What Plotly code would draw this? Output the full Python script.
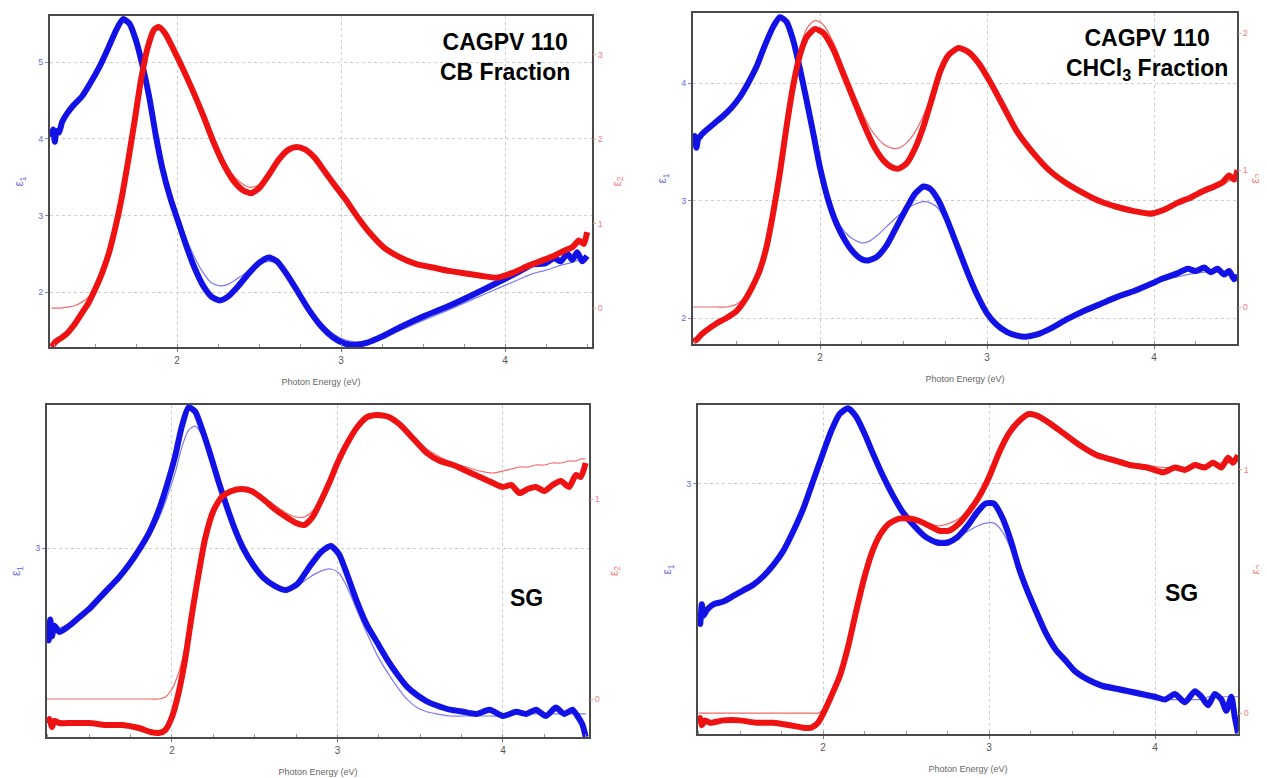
import plotly.graph_objects as go

# reference picture size; the page body adds an 8px margin, so the figure is placed 8px in
W_REF, H_REF = 1267, 778
OFF = 8
W, H = W_REF - OFF, H_REF - OFF

# ---------------- Panel 1 : CAGPV 110 CB Fraction ----------------
p1_e1_E = [1.235, 1.245, 1.255, 1.265, 1.28, 1.30, 1.33, 1.37, 1.42, 1.47, 1.53, 1.58, 1.63, 1.67, 1.71, 1.75,
           1.79, 1.83, 1.87, 1.91, 1.96, 2.01, 2.06, 2.11, 2.16, 2.21, 2.26, 2.31, 2.37, 2.44, 2.50, 2.56,
           2.61, 2.66, 2.72, 2.80, 2.88, 2.95, 3.02, 3.09, 3.16, 3.25, 3.36, 3.50, 3.66, 3.82, 3.97, 4.08,
           4.17, 4.24, 4.30, 4.34, 4.38, 4.41, 4.44, 4.47, 4.50]
p1_e1 = [4.02, 4.12, 3.96, 4.10, 4.08, 4.22, 4.33, 4.44, 4.55, 4.72, 4.95, 5.18, 5.42, 5.56, 5.50, 5.28,
         4.95, 4.55, 4.05, 3.62, 3.22, 2.90, 2.58, 2.30, 2.08, 1.94, 1.89, 1.94, 2.07, 2.25, 2.38, 2.45,
         2.40, 2.26, 2.06, 1.78, 1.55, 1.41, 1.33, 1.31, 1.34, 1.42, 1.54, 1.68, 1.82, 1.98, 2.14, 2.26,
         2.36, 2.37, 2.44, 2.40, 2.50, 2.42, 2.52, 2.40, 2.47]
p1_e1_fit = [4.05, 4.07, 4.09, 4.11, 4.14, 4.20, 4.30, 4.42, 4.55, 4.72, 4.95, 5.18, 5.42, 5.55, 5.50, 5.28,
             4.95, 4.55, 4.07, 3.65, 3.27, 2.97, 2.68, 2.44, 2.25, 2.12, 2.08, 2.10, 2.18, 2.28, 2.36, 2.40,
             2.37, 2.26, 2.08, 1.82, 1.60, 1.46, 1.38, 1.35, 1.36, 1.41, 1.50, 1.63, 1.77, 1.92, 2.06, 2.16,
             2.24, 2.28, 2.32, 2.35, 2.37, 2.39, 2.41, 2.42, 2.43]
p1_e2_E = [1.235, 1.26, 1.29, 1.33, 1.38, 1.42, 1.46, 1.50, 1.54, 1.58, 1.62, 1.66, 1.70, 1.74, 1.78, 1.82,
           1.86, 1.89, 1.93, 1.98, 2.04, 2.10, 2.16, 2.22, 2.28, 2.34, 2.40, 2.45, 2.50, 2.56, 2.62, 2.68,
           2.73, 2.78, 2.84, 2.90, 2.96, 3.03, 3.10, 3.18, 3.26, 3.36, 3.46, 3.56, 3.66, 3.76, 3.86, 3.95,
           4.05, 4.14, 4.22, 4.30, 4.36, 4.41, 4.45, 4.48, 4.50]
p1_e2 = [-0.46, -0.40, -0.36, -0.30, -0.18, -0.06, 0.06, 0.22, 0.40, 0.62, 0.92, 1.28, 1.72, 2.20, 2.70, 3.08,
         3.30, 3.33, 3.25, 3.06, 2.82, 2.56, 2.28, 1.98, 1.72, 1.52, 1.40, 1.36, 1.42, 1.58, 1.76, 1.88,
         1.91, 1.88, 1.78, 1.62, 1.46, 1.28, 1.08, 0.88, 0.72, 0.60, 0.52, 0.48, 0.44, 0.41, 0.38, 0.36,
         0.42, 0.50, 0.56, 0.62, 0.68, 0.72, 0.80, 0.76, 0.90]
p1_e2_fit = [0.00, 0.00, 0.00, 0.01, 0.03, 0.07, 0.13, 0.24, 0.40, 0.62, 0.92, 1.28, 1.72, 2.20, 2.70, 3.08,
             3.32, 3.36, 3.27, 3.06, 2.82, 2.56, 2.28, 1.99, 1.76, 1.58, 1.47, 1.43, 1.46, 1.57, 1.72, 1.84,
             1.89, 1.88, 1.80, 1.64, 1.47, 1.28, 1.08, 0.88, 0.72, 0.60, 0.52, 0.48, 0.44, 0.41, 0.39, 0.38,
             0.41, 0.47, 0.53, 0.60, 0.66, 0.71, 0.76, 0.80, 0.82]

# ---------------- Panel 2 : CAGPV 110 CHCl3 Fraction ----------------
p2_e1_E = [1.24, 1.25, 1.26, 1.27, 1.29, 1.32, 1.37, 1.42, 1.47, 1.52, 1.57, 1.62, 1.67, 1.72, 1.76, 1.80,
           1.84, 1.88, 1.92, 1.96, 2.00, 2.05, 2.10, 2.15, 2.20, 2.25, 2.29, 2.34, 2.40, 2.46, 2.52, 2.57,
           2.62, 2.66, 2.71, 2.76, 2.82, 2.88, 2.94, 3.00, 3.06, 3.12, 3.18, 3.23, 3.30, 3.38, 3.48, 3.58,
           3.68, 3.78, 3.88, 3.98, 4.06, 4.14, 4.20, 4.25, 4.30, 4.34, 4.38, 4.42, 4.45, 4.48, 4.50]
p2_e1 = [3.48, 3.55, 3.45, 3.52, 3.56, 3.60, 3.66, 3.72, 3.79, 3.88, 4.00, 4.14, 4.32, 4.48, 4.56, 4.52,
         4.36, 4.12, 3.85, 3.57, 3.28, 3.00, 2.80, 2.66, 2.56, 2.50, 2.49, 2.52, 2.62, 2.78, 2.94, 3.06,
         3.12, 3.10, 3.00, 2.84, 2.62, 2.40, 2.20, 2.04, 1.94, 1.88, 1.85, 1.84, 1.86, 1.91, 1.99, 2.06,
         2.12, 2.18, 2.23, 2.29, 2.34, 2.38, 2.42, 2.40, 2.43, 2.39, 2.42, 2.37, 2.40, 2.33, 2.36]
p2_e1_fit = [3.50, 3.51, 3.52, 3.53, 3.55, 3.59, 3.65, 3.72, 3.79, 3.88, 4.00, 4.14, 4.32, 4.48, 4.55, 4.51,
             4.36, 4.13, 3.87, 3.60, 3.33, 3.06, 2.84, 2.73, 2.67, 2.64, 2.65, 2.70, 2.78, 2.86, 2.93, 2.97,
             2.99, 2.98, 2.93, 2.80, 2.60, 2.39, 2.20, 2.05, 1.95, 1.89, 1.86, 1.85, 1.87, 1.92, 1.99, 2.06,
             2.12, 2.18, 2.23, 2.28, 2.32, 2.35, 2.37, 2.38, 2.39, 2.39, 2.39, 2.38, 2.38, 2.37, 2.37]
p2_e2_E = [1.24, 1.26, 1.29, 1.32, 1.38, 1.44, 1.50, 1.55, 1.60, 1.64, 1.68, 1.72, 1.76, 1.80, 1.84, 1.88,
           1.92, 1.97, 2.02, 2.08, 2.14, 2.20, 2.26, 2.32, 2.38, 2.43, 2.47, 2.52, 2.57, 2.62, 2.67, 2.72,
           2.77, 2.83, 2.89, 2.95, 3.02, 3.10, 3.18, 3.28, 3.38, 3.48, 3.58, 3.68, 3.78, 3.88, 3.98, 4.06,
           4.14, 4.22, 4.30, 4.36, 4.41, 4.45, 4.48, 4.50]
p2_e2 = [-0.25, -0.24, -0.20, -0.17, -0.12, -0.08, -0.03, 0.05, 0.16, 0.27, 0.44, 0.69, 0.98, 1.32, 1.62, 1.84,
         1.97, 2.03, 2.00, 1.88, 1.70, 1.52, 1.34, 1.18, 1.07, 1.02, 1.01, 1.05, 1.16, 1.32, 1.52, 1.72,
         1.84, 1.89, 1.86, 1.78, 1.64, 1.46, 1.28, 1.12, 0.99, 0.90, 0.83, 0.77, 0.73, 0.70, 0.68, 0.71,
         0.76, 0.80, 0.85, 0.88, 0.91, 0.96, 0.93, 1.00]
p2_e2_fit = [0.00, 0.00, 0.00, 0.00, 0.00, 0.00, 0.02, 0.07, 0.16, 0.27, 0.44, 0.69, 0.98, 1.33, 1.64, 1.88,
             2.03, 2.09, 2.06, 1.93, 1.75, 1.57, 1.40, 1.27, 1.19, 1.16, 1.16, 1.20, 1.28, 1.40, 1.56, 1.72,
             1.83, 1.88, 1.86, 1.78, 1.64, 1.46, 1.28, 1.12, 0.99, 0.90, 0.83, 0.77, 0.73, 0.71, 0.70, 0.72,
             0.75, 0.79, 0.83, 0.86, 0.89, 0.92, 0.94, 0.96]

# ---------------- Panel 3 : SG (left) ----------------
p3_e1_E = [1.245, 1.255, 1.265, 1.275, 1.29, 1.32, 1.38, 1.44, 1.50, 1.56, 1.62, 1.68, 1.74, 1.80, 1.86, 1.92,
           1.97, 2.02, 2.06, 2.10, 2.14, 2.18, 2.23, 2.28, 2.33, 2.38, 2.43, 2.49, 2.55, 2.62, 2.69, 2.76,
           2.83, 2.90, 2.96, 3.01, 3.06, 3.12, 3.18, 3.24, 3.30, 3.36, 3.42, 3.48, 3.54, 3.60, 3.68, 3.76,
           3.84, 3.92, 4.00, 4.08, 4.14, 4.20, 4.26, 4.32, 4.37, 4.42, 4.45, 4.48, 4.50]
p3_e1 = [2.62, 2.56, 2.66, 2.58, 2.63, 2.60, 2.63, 2.67, 2.71, 2.76, 2.81, 2.86, 2.92, 2.99, 3.07, 3.18,
         3.30, 3.44, 3.58, 3.67, 3.65, 3.57, 3.45, 3.32, 3.20, 3.09, 3.00, 2.92, 2.86, 2.82, 2.80, 2.83,
         2.91, 2.98, 3.01, 2.97, 2.87, 2.74, 2.63, 2.55, 2.47, 2.40, 2.34, 2.30, 2.27, 2.25, 2.23, 2.22,
         2.21, 2.23, 2.20, 2.22, 2.21, 2.23, 2.20, 2.24, 2.21, 2.23, 2.20, 2.16, 2.10]
p3_e1_fit = [2.60, 2.60, 2.61, 2.61, 2.62, 2.62, 2.64, 2.67, 2.71, 2.76, 2.81, 2.86, 2.92, 2.98, 3.05, 3.14,
             3.24, 3.36, 3.48, 3.56, 3.58, 3.54, 3.44, 3.32, 3.20, 3.09, 3.00, 2.92, 2.86, 2.82, 2.80, 2.82,
             2.86, 2.89, 2.90, 2.88, 2.81, 2.70, 2.59, 2.49, 2.41, 2.34, 2.28, 2.24, 2.22, 2.21, 2.20, 2.20,
             2.20, 2.20, 2.20, 2.21, 2.21, 2.21, 2.21, 2.21, 2.21, 2.21, 2.21, 2.21, 2.21]
p3_e2_E = [1.245, 1.26, 1.275, 1.29, 1.32, 1.40, 1.50, 1.60, 1.70, 1.80, 1.87, 1.92, 1.96, 2.00, 2.04, 2.08,
           2.12, 2.16, 2.20, 2.25, 2.30, 2.36, 2.42, 2.48, 2.55, 2.62, 2.69, 2.75, 2.80, 2.85, 2.90, 2.95,
           3.00, 3.06, 3.12, 3.18, 3.24, 3.31, 3.38, 3.46, 3.54, 3.62, 3.70, 3.78, 3.86, 3.94, 4.00, 4.05,
           4.10, 4.15, 4.20, 4.25, 4.30, 4.35, 4.40, 4.44, 4.47, 4.50]
p3_e2 = [-0.12, -0.10, -0.14, -0.11, -0.12, -0.12, -0.12, -0.13, -0.13, -0.145, -0.165, -0.17, -0.155, -0.09, 0.03, 0.20,
         0.42, 0.62, 0.80, 0.94, 1.01, 1.04, 1.05, 1.04, 1.00, 0.95, 0.91, 0.88, 0.87, 0.91, 0.99, 1.08,
         1.18, 1.28, 1.36, 1.41, 1.42, 1.41, 1.37, 1.30, 1.23, 1.19, 1.17, 1.14, 1.11, 1.08, 1.06, 1.07,
         1.03, 1.05, 1.06, 1.04, 1.07, 1.09, 1.06, 1.12, 1.11, 1.18]
p3_e2_fit = [0.00, 0.00, 0.00, 0.00, 0.00, 0.00, 0.00, 0.00, 0.00, 0.00, 0.00, 0.00, 0.01, 0.05, 0.13, 0.26,
             0.44, 0.63, 0.80, 0.94, 1.01, 1.04, 1.05, 1.04, 1.01, 0.97, 0.93, 0.91, 0.91, 0.94, 1.00, 1.08,
             1.18, 1.28, 1.36, 1.41, 1.43, 1.42, 1.38, 1.31, 1.25, 1.21, 1.18, 1.16, 1.14, 1.13, 1.14, 1.15,
             1.16, 1.16, 1.17, 1.17, 1.18, 1.18, 1.19, 1.19, 1.20, 1.20]

# ---------------- Panel 4 : SG (right) ----------------
p4_e1_E = [1.25, 1.26, 1.27, 1.28, 1.30, 1.34, 1.40, 1.46, 1.52, 1.58, 1.64, 1.70, 1.76, 1.82, 1.88, 1.94,
           2.00, 2.05, 2.10, 2.15, 2.20, 2.25, 2.30, 2.36, 2.42, 2.48, 2.55, 2.62, 2.69, 2.75, 2.81, 2.87,
           2.93, 2.98, 3.03, 3.08, 3.13, 3.18, 3.23, 3.28, 3.34, 3.40, 3.46, 3.52, 3.60, 3.68, 3.76, 3.84,
           3.92, 4.00, 4.06, 4.12, 4.18, 4.24, 4.28, 4.32, 4.36, 4.40, 4.43, 4.46, 4.48, 4.50]
p4_e1 = [2.54, 2.50, 2.57, 2.53, 2.55, 2.57, 2.58, 2.60, 2.62, 2.64, 2.67, 2.71, 2.76, 2.83, 2.91, 3.01,
         3.11, 3.19, 3.25, 3.27, 3.24, 3.18, 3.11, 3.03, 2.96, 2.90, 2.85, 2.81, 2.79, 2.79, 2.81, 2.85,
         2.90, 2.93, 2.93, 2.88, 2.80, 2.70, 2.62, 2.55, 2.47, 2.41, 2.37, 2.33, 2.30, 2.28, 2.27, 2.26,
         2.25, 2.24, 2.23, 2.25, 2.22, 2.26, 2.24, 2.21, 2.25, 2.23, 2.19, 2.24, 2.17, 2.11]
p4_e1_fit = [2.55, 2.55, 2.55, 2.55, 2.56, 2.57, 2.58, 2.60, 2.62, 2.64, 2.67, 2.71, 2.76, 2.83, 2.91, 3.00,
             3.10, 3.18, 3.24, 3.26, 3.24, 3.18, 3.11, 3.03, 2.96, 2.90, 2.85, 2.81, 2.80, 2.80, 2.81, 2.83,
             2.85, 2.86, 2.86, 2.83, 2.77, 2.69, 2.61, 2.54, 2.46, 2.40, 2.36, 2.32, 2.29, 2.27, 2.26, 2.25,
             2.24, 2.23, 2.23, 2.23, 2.23, 2.23, 2.23, 2.24, 2.24, 2.24, 2.24, 2.24, 2.24, 2.24]
p4_e2_E = [1.25, 1.26, 1.27, 1.29, 1.32, 1.40, 1.50, 1.60, 1.70, 1.80, 1.88, 1.93, 1.97, 2.01, 2.05, 2.10,
           2.15, 2.20, 2.25, 2.30, 2.35, 2.40, 2.46, 2.52, 2.58, 2.64, 2.70, 2.76, 2.82, 2.88, 2.94, 3.00,
           3.06, 3.12, 3.18, 3.24, 3.30, 3.37, 3.45, 3.55, 3.65, 3.75, 3.85, 3.95, 4.05, 4.12, 4.18, 4.24,
           4.30, 4.35, 4.40, 4.44, 4.47, 4.50]
p4_e2 = [-0.04, -0.02, -0.05, -0.03, -0.04, -0.03, -0.03, -0.04, -0.04, -0.05, -0.06, -0.06, -0.04, 0.01, 0.07, 0.15,
         0.27, 0.42, 0.56, 0.67, 0.74, 0.78, 0.80, 0.80, 0.79, 0.77, 0.75, 0.75, 0.78, 0.83, 0.89, 0.97,
         1.07, 1.15, 1.20, 1.23, 1.22, 1.19, 1.15, 1.10, 1.06, 1.04, 1.02, 1.01, 0.99, 1.01, 1.00, 1.02,
         1.01, 1.03, 1.01, 1.05, 1.03, 1.06]
p4_e2_fit = [0.00, 0.00, 0.00, 0.00, 0.00, 0.00, 0.00, 0.00, 0.00, 0.00, 0.00, 0.00, 0.00, 0.02, 0.07, 0.15,
             0.27, 0.42, 0.56, 0.67, 0.74, 0.78, 0.80, 0.80, 0.79, 0.78, 0.77, 0.78, 0.80, 0.84, 0.90, 0.98,
             1.07, 1.15, 1.21, 1.24, 1.23, 1.20, 1.16, 1.11, 1.07, 1.05, 1.03, 1.02, 1.01, 1.01, 1.01, 1.02,
             1.02, 1.02, 1.03, 1.03, 1.04, 1.04]

# axis tick labels / titles
x_title = "Photon Energy (eV)"
left_title = "ε<sub>1</sub>"
right_title = "ε<sub>2</sub>"
labels_top = ["CAGPV 110<br>CB Fraction", "CAGPV 110<br>CHCl<sub>3</sub> Fraction"]
label_sg = "SG"

# ---------------- layout geometry (pixels in reference picture) ----------------
panels = [
    dict(box=(50, 592, 16, 347), xr=(1.2256, 4.530), y1r=(1.283, 5.60), y2r=(-0.462, 3.462), rstand=10,
         d=(p1_e1_E, p1_e1, p1_e1_fit, p1_e2_E, p1_e2, p1_e2_fit)),
    dict(box=(693, 1237, 13, 344), xr=(1.2395, 4.497), y1r=(1.779, 4.596), y2r=(-0.27, 2.146), rstand=3,
         d=(p2_e1_E, p2_e1, p2_e1_fit, p2_e2_E, p2_e2, p2_e2_fit)),
    dict(box=(47, 589, 405, 737), xr=(1.245, 4.520), y1r=(2.10, 3.681), y2r=(-0.19, 1.47), rstand=10,
         d=(p3_e1_E, p3_e1, p3_e1_fit, p3_e2_E, p3_e2, p3_e2_fit)),
    dict(box=(698, 1238, 405, 734), xr=(1.247, 4.50), y1r=(2.107, 3.282), y2r=(-0.086, 1.267), rstand=3,
         d=(p4_e1_E, p4_e1, p4_e1_fit, p4_e2_E, p4_e2, p4_e2_fit)),
]


def px(x):
    return (x - OFF) / W


def py(y):
    return 1 - (y - OFF) / H


BLUE = "#1212e6"
RED = "#ee1212"
BLUE_FIT = "#7c7cf2"
RED_FIT = "#f26a6a"
FONT = "Liberation Sans, Arial, sans-serif"

fig = go.Figure()
layout = dict(width=W, height=H, margin=dict(l=0, r=0, t=0, b=0, autoexpand=False),
              paper_bgcolor="white", plot_bgcolor="white", showlegend=False,
              font=dict(family=FONT, size=9))

for i, p in enumerate(panels, start=1):
    x0, x1, ytop, ybot = p["box"]
    xdom = [px(x0), px(x1)]
    ydom = [py(ybot), py(ytop)]
    xa = "xaxis" if i == 1 else f"xaxis{i}"
    xid = "x" if i == 1 else f"x{i}"
    yl = 2 * i - 1
    yr = 2 * i
    yla = "yaxis" if yl == 1 else f"yaxis{yl}"
    ylid = "y" if yl == 1 else f"y{yl}"
    yra = f"yaxis{yr}"
    yrid = f"y{yr}"

    layout[xa] = dict(domain=xdom, range=list(p["xr"]), anchor=ylid, dtick=1, automargin=False,
                      showline=True, linecolor="#4a4a4a", linewidth=2, mirror=True,
                      showgrid=True, gridcolor="#cdcdcd", griddash="dot", gridwidth=1,
                      ticks="outside", ticklen=3, tickcolor="#777",
                      minor=dict(ticks="inside", dtick=0.25, ticklen=3, tickcolor="#999", showgrid=False),
                      tickfont=dict(size=10, color="#555"), zeroline=False,
                      title=dict(text=x_title, font=dict(size=9, color="#666"), standoff=14))
    layout[yla] = dict(domain=ydom, range=list(p["y1r"]), anchor=xid, side="left", dtick=1, automargin=False,
                       showline=True, linecolor="#4a4a4a", linewidth=2, mirror=True,
                       showgrid=True, gridcolor="#cdcdcd", griddash="dot", gridwidth=1,
                       ticks="outside", ticklen=3, tickcolor="#8888cc", zeroline=False,
                       tickfont=dict(size=9, color="#6a6ad0"),
                       title=dict(text=left_title, font=dict(size=12, color="#6a6ad0"), standoff=12))
    layout[yra] = dict(range=list(p["y2r"]), overlaying=ylid, anchor=xid, side="right", dtick=1,
                       automargin=False, showline=False, showgrid=False, zeroline=False,
                       ticks="outside", ticklen=3, tickcolor="#ee9999",
                       tickfont=dict(size=9, color="#ee8080"),
                       title=dict(text=right_title, font=dict(size=12, color="#ee8080"), standoff=p["rstand"]))

    e1E, e1, e1f, e2E, e2, e2f = p["d"]
    fig.add_trace(go.Scatter(x=e1E, y=e1f, xaxis=xid, yaxis=ylid, mode="lines",
                             line=dict(color=BLUE_FIT, width=1.2, shape="spline", smoothing=0.8),
                             hoverinfo="skip"))
    fig.add_trace(go.Scatter(x=e1E, y=e1, xaxis=xid, yaxis=ylid, mode="lines",
                             line=dict(color=BLUE, width=6, shape="spline", smoothing=0.6),
                             hoverinfo="skip"))
    fig.add_trace(go.Scatter(x=e2E, y=e2f, xaxis=xid, yaxis=yrid, mode="lines",
                             line=dict(color=RED_FIT, width=1.2, shape="spline", smoothing=0.8),
                             hoverinfo="skip"))
    fig.add_trace(go.Scatter(x=e2E, y=e2, xaxis=xid, yaxis=yrid, mode="lines",
                             line=dict(color=RED, width=6, shape="spline", smoothing=0.6),
                             hoverinfo="skip"))

ann_font = dict(family=FONT, size=23, color="black")
layout["annotations"] = [
    dict(text="<b>" + labels_top[0] + "</b>", x=px(505), y=py(57), xref="paper", yref="paper",
         showarrow=False, font=ann_font, align="center", xanchor="center", yanchor="middle"),
    dict(text="<b>" + labels_top[1] + "</b>", x=px(1147), y=py(54), xref="paper", yref="paper",
         showarrow=False, font=ann_font, align="center", xanchor="center", yanchor="middle"),
    dict(text="<b>" + label_sg + "</b>", x=px(526), y=py(598), xref="paper", yref="paper",
         showarrow=False, font=ann_font, xanchor="center", yanchor="middle"),
    dict(text="<b>" + label_sg + "</b>", x=px(1181), y=py(593), xref="paper", yref="paper",
         showarrow=False, font=ann_font, xanchor="center", yanchor="middle"),
]

fig.update_layout(**layout)
fig.write_html("out.html")
